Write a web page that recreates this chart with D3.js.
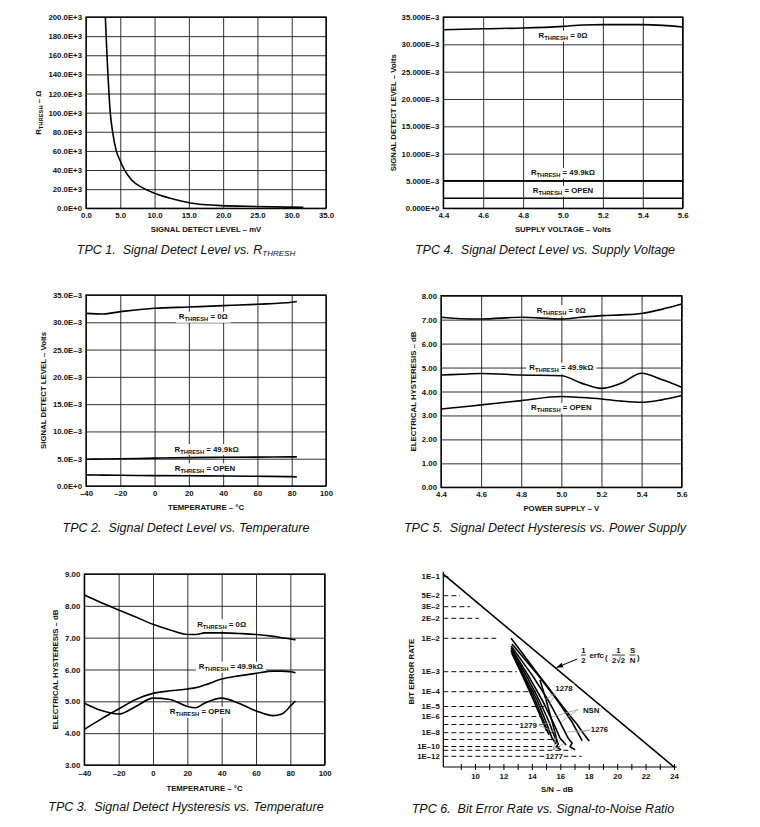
<!DOCTYPE html>
<html lang="en">
  <head>
    <meta charset="utf-8">
    <title>Typical Performance Characteristics</title>
    <style>
      body, html { margin:0; padding:0; background:#fff; }
      svg { display:block; }
      text { font-family:"Liberation Sans", Arial, sans-serif; fill:#111; white-space:pre; }
      .tick text, .lbl { font-size:7.8px; font-weight:bold; }
      .grid line { stroke:#1a1a1a; stroke-width:0.9; }
      .grid path { display:none; }
      .frame { fill:none; stroke:#000; stroke-width:1.3; }
      .curve { fill:none; stroke:#000; stroke-width:1.6; }
      .caption { font-size:12.5px; font-style:italic; }
      .dash { stroke:#111; stroke-width:1; stroke-dasharray:5,3; }
      .leader { stroke:#999; stroke-width:0.8; fill:none; }
    </style>
    <script src="https://d3js.org/d3.v7.min.js"></script>
  </head>
  <body>
<script>
// TPC 1 - R_THRESH vs signal detect level
var tpc1XTicks  = [0, 5, 10, 15, 20, 25, 30, 35];
var tpc1XLabels = ['0.0', '5.0', '10.0', '15.0', '20.0', '25.0', '30.0', '35.0'];
var tpc1YTicks  = [0, 20e3, 40e3, 60e3, 80e3, 100e3, 120e3, 140e3, 160e3, 180e3, 200e3];
var tpc1YLabels = ['0.0E+0', '20.0E+3', '40.0E+3', '60.0E+3', '80.0E+3', '100.0E+3', '120.0E+3', '140.0E+3', '160.0E+3', '180.0E+3', '200.0E+3'];
var tpc1Level   = [2.82, 3.06, 3.2, 3.35, 3.54, 3.88, 4.42, 4.9, 5.63, 6.5, 8.64, 10.0, 12.3, 15.2, 19.1, 23.4, 31.7];
var tpc1Rthresh = [200e3, 160e3, 140e3, 120e3, 100e3, 80e3, 60e3, 51e3, 40e3, 31e3, 20e3, 15.7e3, 10.5e3, 5.6e3, 3.1e3, 2.1e3, 1.0e3];

// TPC 4 - signal detect level vs supply voltage
var supplyTicks  = [4.4, 4.6, 4.8, 5.0, 5.2, 5.4, 5.6];
var supplyLabels = ['4.4', '4.6', '4.8', '5.0', '5.2', '5.4', '5.6'];
var tpc4YTicks   = [0, 5e-3, 10e-3, 15e-3, 20e-3, 25e-3, 30e-3, 35e-3];
var tpc4YLabels  = ['0.000E+0', '5.000E–3', '10.000E–3', '15.000E–3', '20.000E–3', '25.000E–3', '30.000E–3', '35.000E–3'];
var tpc4Supply   = [4.4, 4.6, 4.8, 5.0, 5.1, 5.2, 5.4, 5.5, 5.6];
var tpc4R0       = [32.68e-3, 32.86e-3, 32.98e-3, 33.29e-3, 33.55e-3, 33.6e-3, 33.6e-3, 33.47e-3, 33.17e-3];
var tpc4R49k     = [5.05e-3, 5.05e-3, 5.05e-3, 5.05e-3, 5.05e-3, 5.05e-3, 5.05e-3, 5.05e-3, 5.05e-3];
var tpc4Open     = [1.85e-3, 1.85e-3, 1.85e-3, 1.85e-3, 1.85e-3, 1.85e-3, 1.85e-3, 1.85e-3, 1.85e-3];

// TPC 2 - signal detect level vs temperature
var tempTicks   = [-40, -20, 0, 20, 40, 60, 80, 100];
var tempLabels  = ['–40', '–20', '0', '20', '40', '60', '80', '100'];
var tpc2YLabels = ['0.0E+0', '5.0E–3', '10.0E–3', '15.0E–3', '20.0E–3', '25.0E–3', '30.0E–3', '35.0E–3'];
var tpc2Temp    = [-40, -30, -20, 0, 20, 40, 60, 80, 83];
var tpc2R0      = [31.64e-3, 31.52e-3, 31.95e-3, 32.56e-3, 32.8e-3, 33.05e-3, 33.3e-3, 33.66e-3, 33.8e-3];
var tpc2R49k    = [4.9e-3, 4.95e-3, 5.0e-3, 5.1e-3, 5.2e-3, 5.27e-3, 5.3e-3, 5.33e-3, 5.33e-3];
var tpc2Open    = [2.03e-3, 2.0e-3, 1.97e-3, 1.9e-3, 1.87e-3, 1.84e-3, 1.78e-3, 1.72e-3, 1.65e-3];

// TPC 5 - hysteresis vs power supply
var tpc5YTicks  = [0, 1, 2, 3, 4, 5, 6, 7, 8];
var tpc5YLabels = ['0.00', '1.00', '2.00', '3.00', '4.00', '5.00', '6.00', '7.00', '8.00'];
var tpc5Supply  = [4.4, 4.5, 4.6, 4.8, 5.0, 5.1, 5.2, 5.3, 5.4, 5.5, 5.6];
var tpc5R0      = [7.1, 7.04, 7.03, 7.1, 7.03, 7.1, 7.17, 7.2, 7.26, 7.43, 7.65];
var tpc5R49k    = [4.69, 4.72, 4.75, 4.69, 4.66, 4.35, 4.13, 4.35, 4.76, 4.5, 4.18];
var tpc5Open    = [3.27, 3.35, 3.44, 3.62, 3.79, 3.75, 3.69, 3.6, 3.55, 3.65, 3.83];

// TPC 3 - hysteresis vs temperature
var tpc3YTicks  = [3, 4, 5, 6, 7, 8, 9];
var tpc3YLabels = ['3.00', '4.00', '5.00', '6.00', '7.00', '8.00', '9.00'];
var tpc3Temp    = [-40, -30, -20, -10, 0, 10, 20, 25, 30, 40, 50, 60, 70, 75, 80, 83];
var tpc3R0      = [8.34, 8.1, 7.87, 7.65, 7.42, 7.24, 7.1, 7.1, 7.15, 7.15, 7.13, 7.1, 7.04, 7.0, 6.96, 6.93];
var tpc3R49k    = [4.12, 4.45, 4.76, 5.06, 5.25, 5.33, 5.39, 5.43, 5.51, 5.7, 5.8, 5.88, 5.95, 5.95, 5.93, 5.9];
var tpc3Open    = [4.94, 4.71, 4.6, 4.84, 5.1, 5.06, 4.84, 4.8, 4.94, 5.1, 4.94, 4.7, 4.55, 4.6, 4.85, 5.01];

// TPC 6 - bit error rate vs S/N
var snTicks    = [9, 10, 11, 12, 13, 14, 15, 16, 17, 18, 19, 20, 21, 22, 23, 24];
var snLabels   = ['', '10', '', '12', '', '14', '', '16', '', '18', '', '20', '', '22', '', '24'];
var berLevels  = [1e-1, 5e-2, 3e-2, 2e-2, 1e-2, 1e-3, 1e-4, 1e-5, 1e-6, 1e-7, 1e-8, 1e-9, 1e-10, 1e-11, 1e-12];
var berLabels  = ['1E–1', '5E–2', '3E–2', '2E–2', '1E–2', '1E–3', '1E–4', '1E–5', '1E–6', '', '1E–8', '', '1E–10', '', '1E–12'];
var berDashEnd = [8.24, 8.95, 9.65, 10.28, 11.55, 12.94, 14.43, 15.05, 14.7, 14.79, 15.4, 15.48, 15.98, 16.81, 17.51];
var erfcSN     = [7.77, 24.0];
var erfcExp    = [-0.96, -13];
// [S/N dB, log10 BER]
var berCurves = [
  [[12.54,-2.0],[14.31,-3],[15.38,-4],[16.17,-5],[16.73,-6],[17.19,-7],[17.59,-8],[17.94,-9],[18.05,-9.2]],
  [[12.6,-2.17],[14.43,-3.17],[15.77,-4.56],[16.83,-6.69],[17.54,-9.21]],
  [[12.54,-2.23],[14.02,-3.17],[15.14,-4.56],[15.98,-6.69],[16.55,-8.78],[16.83,-9.5],[16.69,-10.05],[17.04,-10.9]],
  [[12.54,-2.29],[13.73,-3.17],[14.72,-4.56],[15.49,-6.69],[15.98,-8.78],[16.41,-9.79]],
  [[12.54,-2.35],[13.59,-3.17],[14.51,-4.56],[15.21,-6.69],[15.63,-8.78],[15.85,-9.64],[15.71,-10.05],[16.06,-10.9]],
  [[12.54,-2.38],[13.45,-3.17],[14.37,-4.56],[15.0,-6.69],[15.42,-8.78],[15.71,-9.64]],
  [[12.6,-2.41],[13.39,-3.17],[14.23,-4.56],[14.86,-6.69],[15.21,-8.34]],
  [[12.59,-2.45],[13.34,-3.2],[14.09,-4.5],[14.73,-6.5],[15.05,-7.8]],
  [[14.57,-3.42],[15.0,-4.56],[15.49,-7.06],[15.85,-9.79]]
];
var berCurveNames = ['1278', 'NSN', '1276', '1279', '1277'];
var berNameAt     = [[16.26,-3.83], [18.17,-5.42], [18.76,-7.59], [13.75,-7.06], [15.57,-12]];
var berLeaders    = [
  [[15.71,-4.02],[14.93,-4.56],[15.14,-5.05]],
  [[17.26,-5.3],[15.42,-6.05],[16.06,-6.69]],
  [[18.17,-7.66],[17.11,-8.04],[16.48,-7.91]],
  [[14.43,-7.06],[15.28,-6.81],[15.63,-7.91]],
  [[15.49,-10.9],[15.98,-9.07],[16.41,-9.35],[15.71,-8.66]]
];

var svg = d3.select('body').append('svg').attr('width', 760).attr('height', 827);
svg.append('rect').attr('width', 760).attr('height', 827).attr('fill', '#fff');
svg.append('defs').append('marker').attr('id', 'arrow')
  .attr('viewBox', '0 0 10 10').attr('refX', 9).attr('refY', 5)
  .attr('markerWidth', 7).attr('markerHeight', 7).attr('orient', 'auto')
  .append('path').attr('d', 'M0,1.5L10,5L0,8.5Z').attr('fill', '#000');

// text made of pieces, [string, isSubscript]
function pieces(t, parts, subSize) {
  parts.forEach(function(p, i) {
    var ts = t.append('tspan').text(p[0]);
    if (p[1]) ts.attr('font-size', subSize).attr('dy', 2);
    else if (i > 0 && parts[i-1][1]) ts.attr('dy', -2);
  });
  return t;
}
var R = function(tail) { return [['R'], ['THRESH', 1], [' = ' + tail]]; };

// white box behind a text node
function knockout(g, t, px) {
  var b = t.node().getBBox();
  g.insert('rect', 'text').attr('x', b.x - px).attr('y', b.y - 0.5).attr('width', b.width + 2 * px).attr('height', b.height + 1).attr('fill', '#fff');
}

function rLabel(x, y, tail) {
  var g = svg.append('g');
  var t = g.append('text').attr('class', 'lbl').attr('x', x).attr('y', y + 2.5).attr('text-anchor', 'middle');
  pieces(t, R(tail), '5.8px');
  knockout(g, t, 3);
}

function panel(p) {
  var x = d3.scaleLinear().domain(p.xDomain).range([p.left, p.right]);
  var y = d3.scaleLinear().domain(p.yDomain).range([p.bottom, p.top]);
  var w = p.right - p.left, h = p.bottom - p.top;
  svg.append('g').attr('class', 'grid').attr('transform', 'translate(0,' + p.bottom + ')')
    .call(d3.axisBottom(x).tickValues(p.xTicks).tickSize(-h).tickPadding(p.xPad || 4)
      .tickFormat(function(d, i) { return p.xLabels[i]; }));
  svg.append('g').attr('class', 'grid').attr('transform', 'translate(' + p.left + ',0)')
    .call(d3.axisLeft(y).tickValues(p.yTicks).tickSize(-w).tickPadding(4)
      .tickFormat(function(d, i) { return p.yLabels[i]; }));
  svg.append('rect').attr('class', 'frame').attr('x', p.left).attr('y', p.top).attr('width', w).attr('height', h);
  svg.append('text').attr('class', 'lbl').attr('text-anchor', 'middle')
    .attr('x', (p.left + p.right) / 2).attr('y', p.bottom + (p.xTitleDy || 24)).text(p.xTitle);
  pieces(svg.append('text').attr('class', 'lbl').attr('text-anchor', 'middle')
    .attr('transform', 'translate(' + p.yTitleX + ',' + (p.top + p.bottom) / 2 + ') rotate(-90)'), p.yTitle, '5.8px');
  return { x: x, y: y };
}

function curve(s, xs, ys, width) {
  var line = d3.line().x(function(d) { return s.x(d[0]); }).y(function(d) { return s.y(d[1]); }).curve(d3.curveMonotoneX);
  svg.append('path').attr('class', 'curve').attr('stroke-width', width || 1.6).attr('d', line(d3.zip(xs, ys)));
}

function caption(cx, cy, parts) {
  pieces(svg.append('text').attr('class', 'caption').attr('text-anchor', 'middle').attr('x', cx).attr('y', cy + 4), parts, '8px');
}

/* ---- TPC 1 ---- */
var s1 = panel({ left: 86, right: 326, top: 17, bottom: 208.3, xDomain: [0, 35], yDomain: [0, 200e3],
  xTicks: tpc1XTicks, xLabels: tpc1XLabels, yTicks: tpc1YTicks, yLabels: tpc1YLabels,
  xTitle: 'SIGNAL DETECT LEVEL – mV', yTitle: [['R'], ['THRESH', 1], [' – Ω']], yTitleX: 41 });
curve(s1, tpc1Level, tpc1Rthresh, 1.5);
caption(186, 250, [['TPC 1.  Signal Detect Level vs. R'], ['THRESH', 1]]);

/* ---- TPC 4 ---- */
var s4 = panel({ left: 443.3, right: 682.7, top: 17, bottom: 208.3, xDomain: [4.4, 5.6], yDomain: [0, 35e-3],
  xTicks: supplyTicks, xLabels: supplyLabels, yTicks: tpc4YTicks, yLabels: tpc4YLabels,
  xTitle: 'SUPPLY VOLTAGE – Volts', yTitle: [['SIGNAL DETECT LEVEL – Volts']], yTitleX: 395.5 });
rLabel(s4.x(5.0), s4.y(31.57e-3), '0Ω');
rLabel(s4.x(5.0), s4.y(6.47e-3), '49.9kΩ');
rLabel(s4.x(5.0), s4.y(3.22e-3), 'OPEN');
curve(s4, tpc4Supply, tpc4R0, 2);
curve(s4, tpc4Supply, tpc4R49k, 2.4);
curve(s4, tpc4Supply, tpc4Open, 2);
caption(545, 250, [['TPC 4.  Signal Detect Level vs. Supply Voltage']]);

/* ---- TPC 2 ---- */
var s2 = panel({ left: 86, right: 326, top: 295, bottom: 486, xDomain: [-40, 100], yDomain: [0, 35e-3],
  xTicks: tempTicks, xLabels: tempLabels, yTicks: tpc4YTicks, yLabels: tpc2YLabels,
  xTitle: 'TEMPERATURE – °C', yTitle: [['SIGNAL DETECT LEVEL – Volts']], yTitleX: 46 });
rLabel(s2.x(28.4), s2.y(31.02e-3), '0Ω');
rLabel(s2.x(30.4), s2.y(6.78e-3), '49.9kΩ');
rLabel(s2.x(29.4), s2.y(3.24e-3), 'OPEN');
curve(s2, tpc2Temp, tpc2R0, 2);
curve(s2, tpc2Temp, tpc2R49k, 2.2);
curve(s2, tpc2Temp, tpc2Open, 2);
caption(186, 528, [['TPC 2.  Signal Detect Level vs. Temperature']]);

/* ---- TPC 5 ---- */
var s5 = panel({ left: 441, right: 681.7, top: 295.7, bottom: 487.3, xDomain: [4.4, 5.6], yDomain: [0, 8],
  xTicks: supplyTicks, xLabels: supplyLabels, yTicks: tpc5YTicks, yLabels: tpc5YLabels,
  xTitle: 'POWER SUPPLY – V', yTitle: [['ELECTRICAL HYSTERESIS – dB']], yTitleX: 416 });
rLabel(s5.x(5.0), s5.y(7.4), '0Ω');
rLabel(s5.x(5.0), s5.y(4.99), '49.9kΩ');
rLabel(s5.x(5.0), s5.y(3.32), 'OPEN');
curve(s5, tpc5Supply, tpc5R0);
curve(s5, tpc5Supply, tpc5R49k);
curve(s5, tpc5Supply, tpc5Open);
caption(545, 528, [['TPC 5.  Signal Detect Hysteresis vs. Power Supply']]);

/* ---- TPC 3 ---- */
var s3 = panel({ left: 84.3, right: 324.7, top: 574, bottom: 765, xDomain: [-40, 100], yDomain: [3, 9],
  xTicks: tempTicks, xLabels: tempLabels, yTicks: tpc3YTicks, yLabels: tpc3YLabels, xPad: 5, xTitleDy: 26,
  xTitle: 'TEMPERATURE – °C', yTitle: [['ELECTRICAL HYSTERESIS – dB']], yTitleX: 57.5 });
rLabel(s3.x(40), s3.y(7.42), '0Ω');
rLabel(s3.x(45.4), s3.y(6.09), '49.9kΩ');
rLabel(s3.x(27.4), s3.y(4.67), 'OPEN');
curve(s3, tpc3Temp, tpc3R0);
curve(s3, tpc3Temp, tpc3R49k);
curve(s3, tpc3Temp, tpc3Open);
caption(186, 807, [['TPC 3.  Signal Detect Hysteresis vs. Temperature']]);

/* ---- TPC 6 ---- */
var sn = d3.scaleLinear().domain([10, 24]).range([475, 674]);
// BER axis is neither linear nor log: piecewise scale on log10(BER)
var ber = d3.scaleLinear()
  .domain([-1, -1.301, -1.523, -1.699, -2, -3, -4, -5, -6, -7, -8, -9, -10, -11, -12, -13])
  .range([576.7, 595.7, 606.7, 618.3, 638.3, 671.7, 691.7, 706.5, 716.5, 724.5, 732.7, 739.5, 746.5, 750.3, 756.3, 767]);
var snMin = 7.77, snMax = 24.2;

svg.selectAll('.dash').data(berLevels).enter().append('line').attr('class', 'dash')
  .attr('x1', sn(snMin)).attr('x2', function(d, i) { return sn(berDashEnd[i]); })
  .attr('y1', function(d) { return ber(Math.log10(d)); }).attr('y2', function(d) { return ber(Math.log10(d)); });
svg.selectAll('.berlbl').data(berLevels).enter().append('text').attr('class', 'lbl berlbl')
  .attr('x', sn(snMin) - 3.5).attr('y', function(d) { return ber(Math.log10(d)); }).attr('dy', '0.35em')
  .attr('text-anchor', 'end').text(function(d, i) { return berLabels[i]; });

var xAxis6 = svg.append('g').attr('transform', 'translate(0,' + ber(-13) + ')')
  .call(d3.axisBottom(sn).tickValues(snTicks).tickSize(3).tickPadding(3)
    .tickFormat(function(d, i) { return snLabels[i]; }));
xAxis6.select('.domain').remove();
xAxis6.selectAll('.tick line').attr('y1', -3).attr('stroke', '#000');
svg.append('line').attr('x1', sn(snMin)).attr('x2', sn(snMax)).attr('y1', ber(-13)).attr('y2', ber(-13)).attr('stroke', '#000').attr('stroke-width', 1.2);
svg.append('line').attr('x1', sn(snMin)).attr('x2', sn(snMin)).attr('y1', ber(-0.92)).attr('y2', ber(-13)).attr('stroke', '#000').attr('stroke-width', 1.2);
svg.append('text').attr('class', 'lbl').attr('text-anchor', 'middle').attr('x', 557).attr('y', 792).text('S/N – dB');
svg.append('text').attr('class', 'lbl').attr('text-anchor', 'middle')
  .attr('transform', 'translate(414,' + ber(-3) + ') rotate(-90)').text('BIT ERROR RATE');

var berLine = d3.line().x(function(d) { return sn(d[0]); }).y(function(d) { return ber(d[1]); });
svg.append('path').attr('class', 'curve').attr('stroke-width', 1.5).attr('d', berLine(d3.zip(erfcSN, erfcExp)));
svg.selectAll('.bercurve').data(berCurves).enter().append('path').attr('class', 'curve bercurve')
  .attr('stroke-width', 0.75).attr('d', berLine);

berLeaders.forEach(function(l) {
  for (var k = 1; k < l.length; k++) {
    svg.append('path').attr('class', 'leader').attr('d', berLine([l[0], l[k]]));
  }
});
berCurveNames.forEach(function(n, i) {
  var g = svg.append('g');
  var t = g.append('text').attr('class', 'lbl').attr('text-anchor', 'middle')
    .attr('x', sn(berNameAt[i][0])).attr('y', ber(berNameAt[i][1])).attr('dy', '0.35em').text(n);
  knockout(g, t, 1);
});

// erfc formula label and arrow
var ex0 = sn(erfcSN[0]), ey0 = ber(erfcExp[0]), ex1 = sn(erfcSN[1]), ey1 = ber(erfcExp[1]);
var tipX = sn(15.75), tipY = ey0 + (tipX - ex0) / (ex1 - ex0) * (ey1 - ey0);
svg.append('line').attr('x1', sn(17.19)).attr('y1', ber(-2.62)).attr('x2', tipX).attr('y2', tipY - 1.5)
  .attr('stroke', '#000').attr('stroke-width', 1).attr('marker-end', 'url(#arrow)');
var f = svg.append('g').attr('transform', 'translate(' + sn(17.46) + ',' + ber(-2.5) + ')');
function fracPart(g, cx, top, bot, barW) {
  g.append('text').attr('class', 'lbl').attr('text-anchor', 'middle').attr('x', cx).attr('y', -2).text(top);
  g.append('line').attr('x1', cx - barW / 2).attr('x2', cx + barW / 2).attr('y1', 0).attr('y2', 0).attr('stroke', '#000').attr('stroke-width', 0.8);
  g.append('text').attr('class', 'lbl').attr('text-anchor', 'middle').attr('x', cx).attr('y', 7.5).text(bot);
}
fracPart(f, 2.5, '1', '2', 5);
f.append('text').attr('class', 'lbl').attr('x', 8.5).attr('y', 2.5).text('erfc');
f.append('text').attr('class', 'lbl').attr('x', 24).attr('y', 5).attr('font-size', '15px').attr('font-weight', 'normal').text('(');
fracPart(f, 37.5, '1', '2√2', 13);
fracPart(f, 51.5, 'S', 'N', 6);
f.append('text').attr('class', 'lbl').attr('x', 56).attr('y', 5).attr('font-size', '15px').attr('font-weight', 'normal').text(')');

caption(543, 809, [['TPC 6.  Bit Error Rate vs. Signal-to-Noise Ratio']]);
</script>
  </body>
</html>
